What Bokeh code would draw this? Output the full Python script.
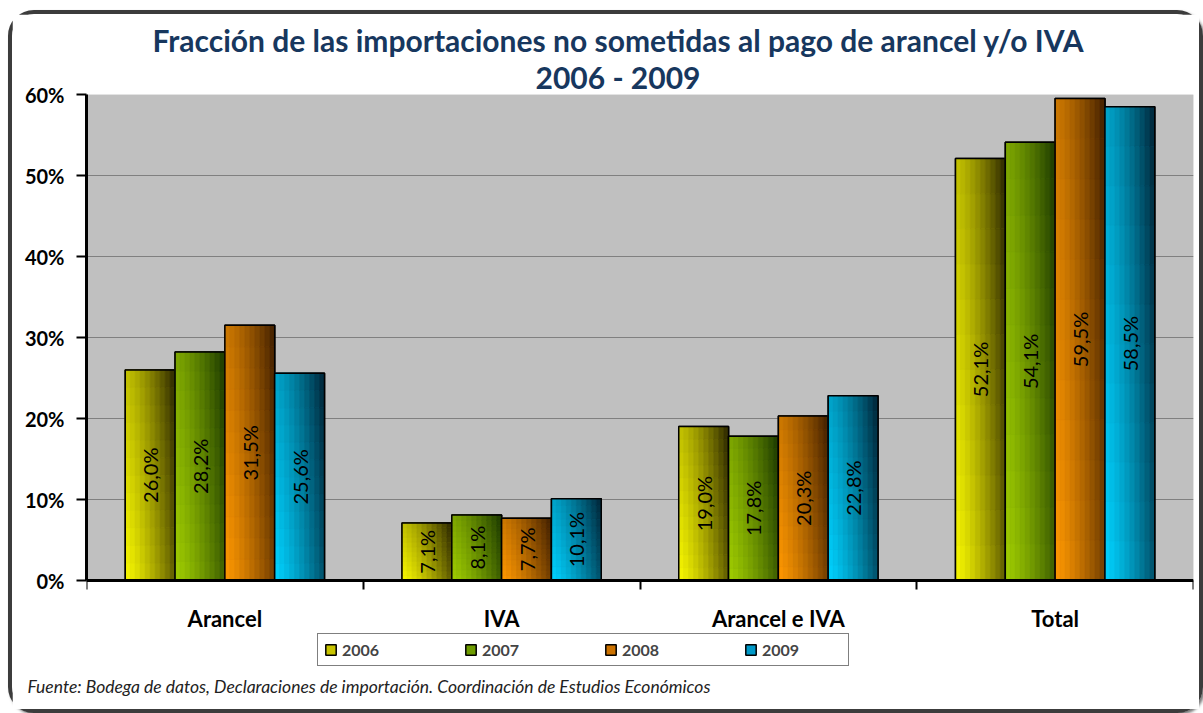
import numpy as np
from bokeh.plotting import figure
from bokeh.models import (FixedTicker, Legend, LegendItem, Title, ColumnDataSource,
                          PrintfTickFormatter, Range1d, BoxAnnotation)
from bokeh.core.properties import value
from bokeh.embed import file_html
from bokeh.resources import INLINE

categories = ["Arancel", "IVA", "Arancel e IVA", "Total"]
years = ["2006", "2007", "2008", "2009"]
v2006 = [26.0, 7.1, 19.0, 52.1]
v2007 = [28.2, 8.1, 17.8, 54.1]
v2008 = [31.5, 7.7, 20.3, 59.5]
v2009 = [25.6, 10.1, 22.8, 58.5]
y_ticks = [0, 10, 20, 30, 40, 50, 60]

series = [v2006, v2007, v2008, v2009]
bright = [(248, 248, 0), (160, 205, 0), (255, 152, 0), (0, 210, 255)]
dark = [(55, 50, 0), (35, 65, 0), (75, 38, 0), (0, 45, 65)]
mid = ["#c8c400", "#6e9c00", "#cc7200", "#0099c8"]

FONT = "Lato"
Y_MAX = y_ticks[-1]
N = len(categories)
# the frame also holds the area under the axis (labels + legend): 88 px below 0 out of 486 px for 0..60
Y_MIN = -Y_MAX * 88.0 / 486.0

p = figure(width=1195, height=703, output_backend="svg", toolbar_location=None,
           x_range=Range1d(0, N), y_range=Range1d(Y_MIN, Y_MAX),
           min_border_left=74, min_border_right=14, min_border_top=80, min_border_bottom=49,
           background_fill_color="white", border_fill_color="white",
           outline_line_color=None)
p.styles = {"border": "4px solid #3c3c3c", "border-radius": "26px",
            "box-shadow": "2px 2px 3px #777", "margin-left": "8px", "margin-top": "10px"}

# grey plotting area
p.add_layout(BoxAnnotation(left=0, right=N, bottom=0, top=Y_MAX, fill_color="#c0c0c0",
                           fill_alpha=1, line_color="#a0a0a0", line_width=1, level="image"))

TITLE_COLOR = "#17375e"
p.title.text = "Fracción de las importaciones no sometidas al pago de  arancel  y/o IVA"
p.title.align = "left"
p.title.offset = 66
p.title.text_font = FONT
p.title.text_font_size = "30px"
p.title.text_font_style = "bold"
p.title.text_color = TITLE_COLOR
p.title.standoff = -3
t2 = Title(text="2006 - 2009", align="left", offset=449, text_font=FONT,
           text_font_size="30px", text_font_style="bold", text_color=TITLE_COLOR,
           standoff=0)
p.add_layout(t2, "above")

bw = 0.18
nx, ny = 10, 12
legend_items = []
for i, vals in enumerate(series):
    vals = np.array(vals)
    left = np.arange(N) + 0.14 + i * bw
    right = left + bw
    r = p.quad(left=left, right=right, bottom=0, top=vals, fill_color=mid[i],
               line_color="black", line_width=1.5)
    legend_items.append(LegendItem(label=years[i], renderers=[r]))
    L, R, B, T, C = [], [], [], [], []
    for k in range(len(vals)):
        for a in range(nx):
            for b in range(ny):
                u = (a + 0.5) / nx
                v = (b + 0.5) / ny
                t = min(1.0, 0.78 * u ** 1.3 + 0.28 * v)
                col = tuple(int(bright[i][c] * (1 - t) + dark[i][c] * t) for c in range(3))
                L.append(left[k] + a * bw / nx)
                R.append(left[k] + (a + 1) * bw / nx)
                B.append(vals[k] * b / ny)
                T.append(vals[k] * (b + 1) / ny)
                C.append("#%02x%02x%02x" % col)
    src = ColumnDataSource(dict(left=L, right=R, bottom=B, top=T, color=C))
    p.quad(left="left", right="right", bottom="bottom", top="top", fill_color="color",
           line_color="color", line_width=0.6, source=src)
    p.quad(left=left, right=right, bottom=0, top=vals, fill_alpha=0,
           line_color="black", line_width=1.5)
    labels = [("%.1f" % x).replace(".", ",") + "%" for x in vals]
    p.text(x=(left + right) / 2, y=vals / 2, text=labels, angle=np.pi / 2,
           text_align="center", text_baseline="middle", text_font=value(FONT),
           text_font_size="20px", text_color="black")

# y axis
p.yaxis.bounds = (0, Y_MAX)
p.yaxis.ticker = FixedTicker(ticks=y_ticks, minor_ticks=[])
p.yaxis.formatter = PrintfTickFormatter(format="%d%%")
p.yaxis.major_label_text_font = FONT
p.yaxis.major_label_text_font_size = "20px"
p.yaxis.major_label_text_font_style = "bold"
p.yaxis.major_label_text_color = "black"
p.yaxis.axis_line_width = 3
p.yaxis.axis_line_color = "black"
p.yaxis.major_tick_out = 10
p.yaxis.major_tick_in = 0
p.yaxis.major_tick_line_width = 2
p.yaxis.major_label_standoff = 12

# x axis drawn at y = 0 inside the frame; category names as text under it
centers = [k + 0.5 for k in range(N)]
p.xaxis.fixed_location = 0
p.xaxis.ticker = FixedTicker(ticks=centers, minor_ticks=list(range(N + 1)))
p.xaxis.major_label_overrides = {c: "" for c in centers}
p.xaxis.major_label_text_font_size = "1px"
p.xaxis.major_label_standoff = 0
p.xaxis.major_tick_line_color = None
p.xaxis.major_tick_out = 0
p.xaxis.major_tick_in = 0
p.xaxis.minor_tick_out = 9
p.xaxis.minor_tick_in = 0
p.xaxis.minor_tick_line_width = 2
p.xaxis.minor_tick_line_color = "black"
p.xaxis.axis_line_width = 3
p.xaxis.axis_line_color = "black"

p.text(x=centers, y=[0] * N, text=categories, y_offset=38, text_align="center",
       text_baseline="middle", text_font=value(FONT), text_font_size="22px",
       text_font_style="bold", text_color="black")

p.xgrid.grid_line_color = None
p.ygrid.grid_line_color = "#808080"
p.ygrid.grid_line_width = 1

legend = Legend(items=legend_items, orientation="horizontal", location=(231, 2),
                label_text_font=FONT, label_text_font_size="16px",
                label_text_font_style="bold", glyph_width=13, glyph_height=13,
                label_standoff=5, label_width=80, spacing=42, padding=6, margin=0,
                border_line_color="black", border_line_width=1,
                background_fill_color="white", background_fill_alpha=1)
p.add_layout(legend, "center")

foot = Title(text="Fuente: Bodega de datos, Declaraciones de importación. Coordinación de Estudios Económicos",
             align="left", text_font=FONT, text_font_size="17.5px", text_font_style="italic",
             text_color="#222222", offset=-59, standoff=10)
p.add_layout(foot, "below")

open("out.html", "w").write(file_html(p, INLINE))
